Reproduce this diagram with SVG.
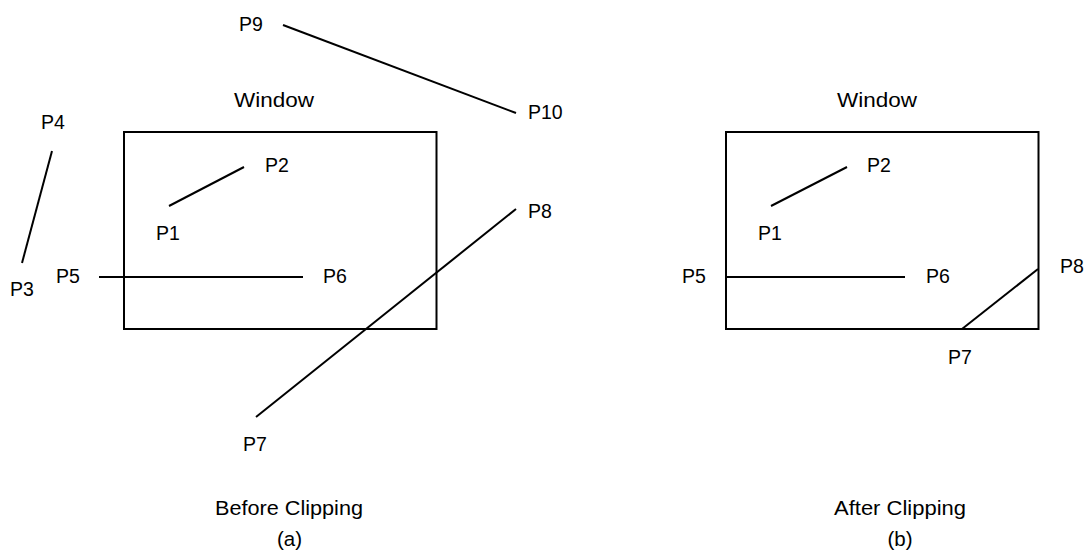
<svg xmlns="http://www.w3.org/2000/svg" width="1085" height="552" viewBox="0 0 1085 552">
<style>
text{font-family:"Liberation Sans",Arial,sans-serif;font-size:19.5px;fill:#000}
.w{font-size:20.5px}
.c{text-anchor:middle;font-size:20.5px}
.ln{stroke:#000;stroke-width:2;fill:none}
</style>
<rect width="1085" height="552" fill="#fff"/>
<g id="panel-a">
<g id="window-a"><rect class="ln" x="124" y="132" width="312.5" height="197"/><text class="w" x="234" y="107" textLength="80" lengthAdjust="spacingAndGlyphs">Window</text></g>
<g id="labels-a">
<text x="239" y="31">P9</text>
<text x="528" y="119">P10</text>
<text x="41" y="129">P4</text>
<text x="10" y="296">P3</text>
<text x="265" y="172">P2</text>
<text x="156" y="240">P1</text>
<text x="56" y="283">P5</text>
<text x="323" y="283">P6</text>
<text x="528" y="218">P8</text>
<text x="243" y="451">P7</text>
<text x="215" y="515" class="w" textLength="148" lengthAdjust="spacingAndGlyphs">Before Clipping</text>
<text class="c" x="289.5" y="546">(a)</text>
</g>
</g>
<g id="panel-b">
<g id="window-b"><rect class="ln" x="726" y="132" width="312.5" height="197"/><text class="w" x="837" y="107" textLength="80" lengthAdjust="spacingAndGlyphs">Window</text></g>
<g id="labels-b">
<text x="867" y="172">P2</text>
<text x="758" y="240">P1</text>
<text x="682" y="283">P5</text>
<text x="926" y="283">P6</text>
<text x="1060" y="273">P8</text>
<text x="948" y="364">P7</text>
<text x="834" y="515" class="w" textLength="132" lengthAdjust="spacingAndGlyphs">After Clipping</text>
<text class="c" x="900" y="546">(b)</text>
</g>
</g>
<g id="connectors">
<line class="ln" x1="283" y1="25" x2="516" y2="113"/>
<line class="ln" x1="52" y1="151" x2="22" y2="263"/>
<line class="ln" x1="169" y1="206" x2="244" y2="167"/>
<line class="ln" x1="99" y1="277" x2="303" y2="277"/>
<line class="ln" x1="516" y1="209" x2="256" y2="417"/>
<line class="ln" x1="771" y1="206" x2="847" y2="167"/>
<line class="ln" x1="725" y1="277" x2="905" y2="277"/>
<line class="ln" x1="962" y1="329" x2="1038" y2="269"/>
</g>
</svg>
